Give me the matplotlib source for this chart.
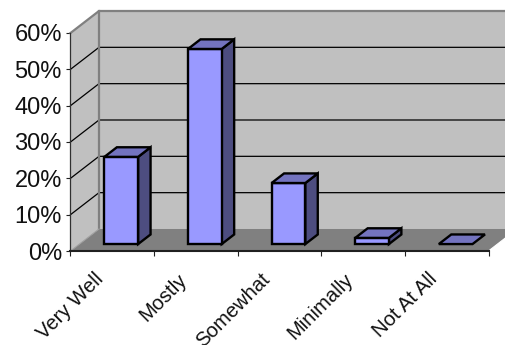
import matplotlib
matplotlib.use("Agg")
import matplotlib.pyplot as plt
from matplotlib.patches import Polygon
from matplotlib.transforms import ScaledTranslation

categories = ["Very Well", "Mostly", "Somewhat", "Minimally", "Not At All"]
values = [24, 53.7, 16.8, 1.7, 0]
y_ticks = [0, 10, 20, 30, 40, 50, 60]
y_labels = ["0%", "10%", "20%", "30%", "40%", "50%", "60%"]

W, H = 506, 345
plt.rcParams["font.family"] = ["Liberation Sans", "DejaVu Sans"]
fig = plt.figure(figsize=(W / 100, H / 100), dpi=100, facecolor="white")
ax = fig.add_axes([70.5 / W, (H - 251) / H, 418 / W, 218 / H])
ax.set_xlim(0, len(categories))
ax.set_ylim(0, 60)
ax.patch.set_visible(False)

# oblique projection: depth offset of the back wall, in data units
DX, DY = 28.5 / 83.6, 22 / 3.633
# bars sit part-way into the floor and reach part-way back
BAR_W = 0.403
BAR_FRONT = 0.315
BAR_DEPTH = 0.37


def poly(pts, fc, ec="none", lw=0, z=1):
    ax.add_patch(Polygon(pts, closed=True, facecolor=fc, edgecolor=ec, linewidth=lw,
                         zorder=z, clip_on=False, joinstyle="miter"))


n = len(categories)
top = y_ticks[-1]
# side wall, back wall, floor
poly([(0, 0), (DX, DY), (DX, top + DY), (0, top)], "#C0C0C0")
poly([(DX, DY), (n + DX, DY), (n + DX, top + DY), (DX, top + DY)], "#C0C0C0")
poly([(0, 0), (n, 0), (n + DX, DY), (DX, DY)], "#808080")

# gridlines wrap around the side wall and the back wall
for t in y_ticks[1:-1]:
    ax.plot([0, DX, n + DX], [t, t + DY, t + DY], color="black", lw=0.9, zorder=2,
            clip_on=False, solid_joinstyle="miter")

# grey frame along the wall edges
ax.plot([0, DX, n + DX], [top, top + DY, top + DY], color="#808080", lw=1.6, zorder=2.5, clip_on=False)
ax.plot([DX, DX], [DY, top + DY], color="#808080", lw=1.6, zorder=2.5, clip_on=False)
ax.plot([0, DX], [0, DY], color="#A0A0A0", lw=0.8, zorder=2.5, clip_on=False)
ax.plot([n, n + DX], [0, DY], color="#FFFFFF", lw=0.8, zorder=2.5, clip_on=False)

# extruded columns: front face, top face, right side
for i, v in enumerate(values):
    x0 = i + 0.5 - BAR_W / 2 + BAR_FRONT * DX
    x1 = x0 + BAR_W
    y0 = BAR_FRONT * DY
    y1 = y0 + v
    ox, oy = BAR_DEPTH * DX * 1.18, BAR_DEPTH * DY * 1.18
    style = dict(ec="black", lw=1.7, z=3 + i * 0.01)
    if v > 0:
        poly([(x1, y0), (x1 + ox, y0 + oy), (x1 + ox, y1 + oy), (x1, y1)], "#4D4D80", **style)
        poly([(x0, y0), (x1, y0), (x1, y1), (x0, y1)], "#9999FF", **style)
    poly([(x0, y1), (x1, y1), (x1 + ox, y1 + oy), (x0 + ox, y1 + oy)], "#7373BF", **style)

# axes and tick labels
for side in ("top", "right"):
    ax.spines[side].set_visible(False)
ax.spines["left"].set_color("#303030")
ax.spines["left"].set_linewidth(0.9)
ax.spines["bottom"].set_color("#202020")
ax.spines["bottom"].set_linewidth(1.5)
ax.set_yticks(y_ticks)
ax.set_yticklabels(y_labels, fontsize=17, color="#111111")
ax.tick_params(axis="y", length=3, width=0.8, pad=3.2, color="#202020")
ax.set_xticks(range(n + 1))
ax.set_xticklabels([])
ax.tick_params(axis="x", which="major", length=3.6, width=0.8, color="#202020")
ax.set_xticks([i + 0.5 for i in range(n)], minor=True)
ax.set_xticklabels(categories, minor=True, rotation=45, ha="right", va="top",
                   rotation_mode="anchor", fontsize=14.6, color="#111111")
ax.tick_params(axis="x", which="minor", length=0, pad=13.5)
# pull the slanted labels left of their category centres
shift = ScaledTranslation(-0.19, 0, fig.dpi_scale_trans)
for label in ax.get_xticklabels(minor=True):
    label.set_transform(label.get_transform() + shift)

fig.savefig("out.png", dpi=100)
